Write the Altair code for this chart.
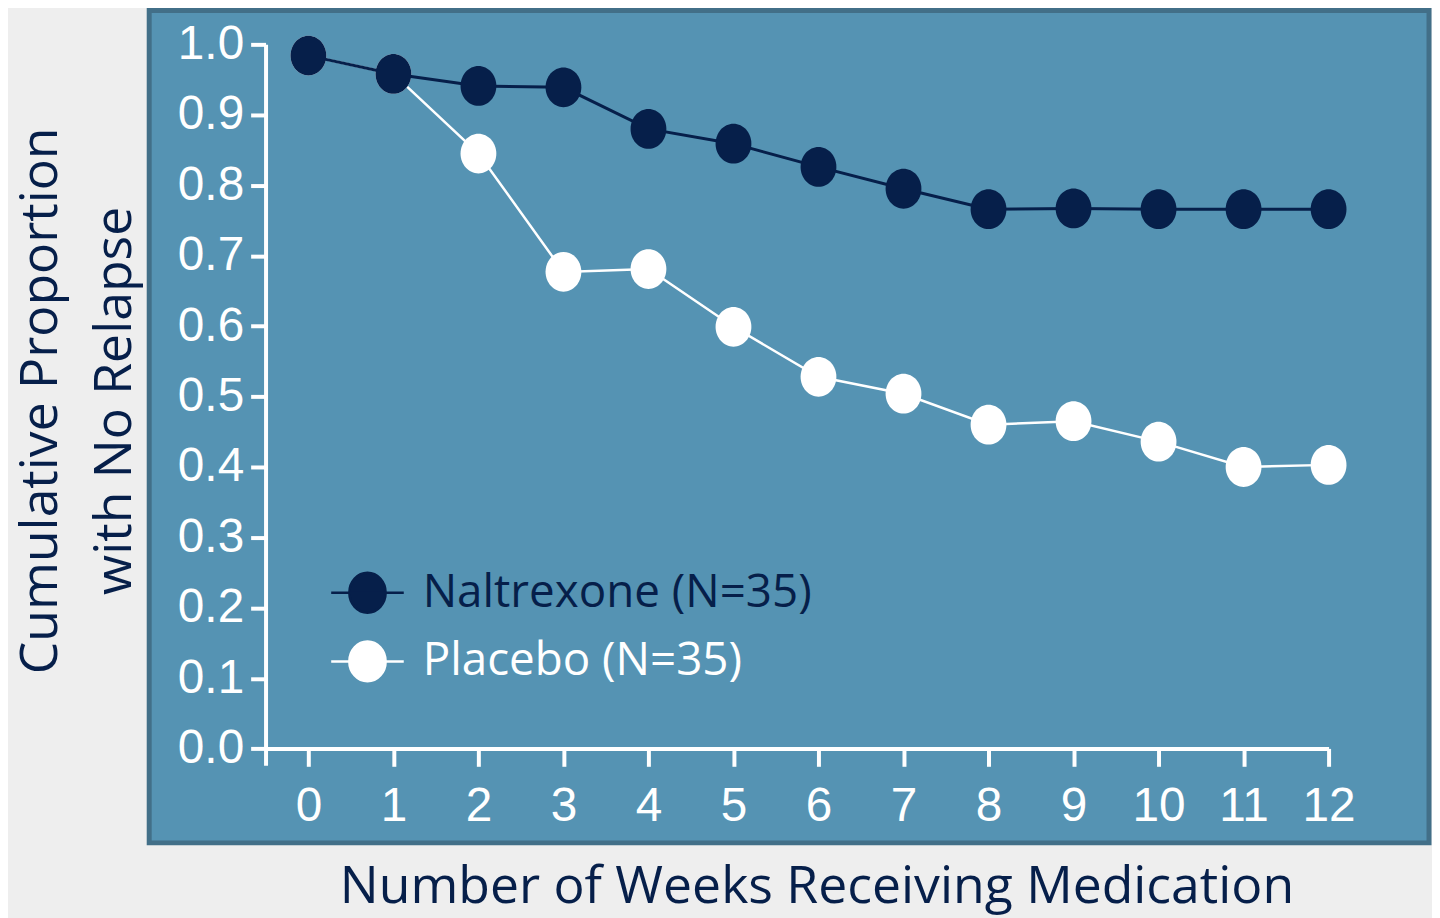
import altair as alt
import pandas as pd

# ---- data ----
weeks = list(range(13))
naltrexone = [0.984, 0.958, 0.941, 0.939, 0.880, 0.859, 0.826, 0.795, 0.766, 0.767, 0.766, 0.766, 0.766]
placebo = [0.984, 0.958, 0.845, 0.677, 0.681, 0.599, 0.528, 0.504, 0.460, 0.465, 0.436, 0.400, 0.403]
series_names = ["Naltrexone (N=35)", "Placebo (N=35)"]
y_ticks = [0.0, 0.1, 0.2, 0.3, 0.4, 0.5, 0.6, 0.7, 0.8, 0.9, 1.0]
x_ticks = weeks
x_title = "Number of Weeks Receiving Medication"
y_title = ["Cumulative Proportion", "with No Relapse"]

# ---- styles ----
NAVY = "#061f4a"
WHITE = "#ffffff"
PANEL = "#5593b3"
BORDER = "#426f88"
PAGE = "#eeeeee"
TITLE_FONT = "Open Sans"
NUM_FONT = "Liberation Sans"

rows = []
for w, v in zip(weeks, placebo):
    rows.append({"week": w, "value": v, "series": series_names[1]})
for w, v in zip(weeks, naltrexone):
    rows.append({"week": w, "value": v, "series": series_names[0]})
df = pd.DataFrame(rows)

ELLIPSE = "M-0.9,0A0.9,1,0,1,1,0.9,0A0.9,1,0,1,1,-0.9,0Z"
LEGEND_SYMBOL = "M-1.6,0L1.6,0M-0.8,0A0.8,0.88,0,1,1,0.8,0A0.8,0.88,0,1,1,-0.8,0Z"
COLOR_EXPR = "datum.value == '" + series_names[1] + "' ? '" + WHITE + "' : '" + NAVY + "'"

x_enc = alt.X(
    "week:Q",
    scale=alt.Scale(domain=[-0.504, 12], range=[117, 1186], nice=False, zero=False),
    axis=alt.Axis(
        values=x_ticks, format="d", orient="bottom", offset=-95, grid=False,
        domainColor=WHITE, domainWidth=4, tickColor=WHITE, tickWidth=4, tickSize=18,
        labelColor=WHITE, labelFont=NUM_FONT, labelFontSize=48, labelPadding=17,
        labelOverlap=False, labelFlush=False,
        title=x_title, titleFont=TITLE_FONT, titleFontSize=52, titleFontWeight="normal",
        titleColor=NAVY, titleX=671, titleY=155, titleAlign="center", titleBaseline="alphabetic",
    ),
)
y_enc = alt.Y(
    "value:Q",
    scale=alt.Scale(domain=[-0.0235, 1.0], range=[759, 34], nice=False, zero=False),
    axis=alt.Axis(
        values=y_ticks, format=".1f", orient="left", offset=-117, grid=False,
        domainColor=WHITE, domainWidth=4, tickColor=WHITE, tickWidth=4, tickSize=15,
        labelColor=WHITE, labelFont=NUM_FONT, labelFontSize=48, labelPadding=7,
        labelOverlap=False, labelFlush=False,
        title=y_title, titleFont=TITLE_FONT, titleFontSize=52, titleFontWeight="normal",
        titleColor=NAVY, titleAngle=270, titleX=-226, titleY=392, titleAlign="center",
        titleBaseline="middle", titleLineHeight=74,
    ),
)

color_enc = alt.Color(
    "series:N",
    scale=alt.Scale(domain=series_names, range=[NAVY, WHITE]),
    legend=alt.Legend(
        title=None, orient="none", legendX=195, legendY=561,
        symbolType=LEGEND_SYMBOL, symbolSize=2080, symbolStrokeWidth=2.5,
        symbolStrokeColor={"expr": COLOR_EXPR}, symbolOpacity=1,
        labelFont=TITLE_FONT, labelFontSize=46, labelOffset=31, rowPadding=18,
        labelColor={"expr": COLOR_EXPR},
        padding=0, labelLimit=600,
    ),
)

base = alt.Chart(df)

plc_line = base.transform_filter(alt.datum.series == series_names[1]).mark_line(
    color=WHITE, strokeWidth=2.5).encode(x=x_enc, y=y_enc)
plc_pts = base.transform_filter(alt.datum.series == series_names[1]).mark_point(
    filled=True, shape=ELLIPSE, size=1600, opacity=1, strokeWidth=0).encode(
    x=x_enc, y=y_enc, color=color_enc)
nal_line = base.transform_filter(alt.datum.series == series_names[0]).mark_line(
    color=NAVY, strokeWidth=3).encode(x=x_enc, y=y_enc)
nal_pts = base.transform_filter(alt.datum.series == series_names[0]).mark_point(
    filled=True, shape=ELLIPSE, size=1600, opacity=1, strokeWidth=0).encode(
    x=x_enc, y=y_enc, color=color_enc)

chart = alt.layer(plc_line, plc_pts, nal_line, nal_pts).properties(
    width=1287, height=837,
    autosize=alt.AutoSizeParams(type="none"),
    padding={"left": 142, "top": 0, "right": 3, "bottom": 73},
    background=PAGE,
).configure_view(
    fill=PANEL, stroke=BORDER, strokeWidth=5,
)

chart.save("out.html", embed_options={"renderer": "svg", "actions": False})
